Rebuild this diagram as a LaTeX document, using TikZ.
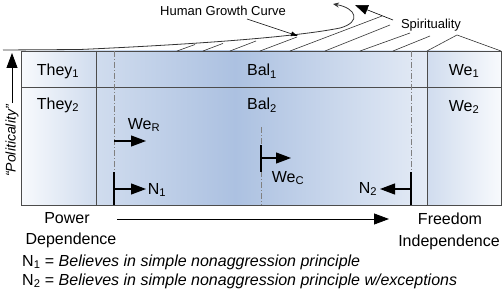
\documentclass[tikz,border=0pt]{standalone}
\usepackage{fontspec}
\setmainfont{Liberation Sans}
\usetikzlibrary{arrows.meta}

\tikzset{
  lbl/.style={inner sep=0pt,font=\fontsize{16}{18}\selectfont},
  smalllbl/.style={inner sep=0pt,font=\fontsize{13}{15}\selectfont},
  cellline/.style={draw=black!70,line width=0.8pt},
  guide/.style={draw=black!50,line width=0.8pt,dash pattern=on 6pt off 2pt on 1pt off 2pt},
  tickmark/.style={draw=black,line width=1.6pt},
  flow/.style={-{Triangle[length=15pt,width=11pt]},line width=1.1pt},
  hatch/.style={draw=black!80,line width=0.6pt},
}

\begin{document}
\begin{tikzpicture}[x=1pt,y=-1pt]
    \definecolor{pale}{RGB}{248,250,253}
    \definecolor{mid}{RGB}{208,220,238}
    \definecolor{deep}{RGB}{172,193,225}
    \useasboundingbox (0,0) rectangle (502,302);

    % shaded table
    \shade[left color=pale,right color=mid] (21,51) rectangle (96,205);
    \shade[left color=mid,right color=deep] (96,51) rectangle (235,205);
    \shade[left color=deep,right color=pale!50!mid] (235,51) rectangle (427,205);
    \shade[left color=mid,right color=pale] (427,51) rectangle (501,205);
    \draw[cellline] (21,51) rectangle (501,205);
    \draw[cellline] (21,87) -- (501,87);
    \draw[cellline] (96,51) -- (96,205);
    \draw[cellline] (427,51) -- (427,205);

    % cells
    \node[lbl] (they1) at (58,71) {They\textsubscript{1}};
    \node[lbl] (they2) at (58,105) {They\textsubscript{2}};
    \node[lbl] (bal1) at (262,71) {Bal\textsubscript{1}};
    \node[lbl] (bal2) at (262,105) {Bal\textsubscript{2}};
    \node[lbl] (we1) at (464,71) {We\textsubscript{1}};
    \node[lbl] (we2) at (464,107) {We\textsubscript{2}};

    % growth curve and hatching
    \draw[line width=0.8pt,black!80,-{Stealth[length=6pt,width=5pt]}] (3,50) -- (80,49.5)
        .. controls (180,45) and (290,38) .. (340,28)
        .. controls (362,22) and (356,8) .. (333,4);
    \foreach \sx/\ex/\ey in {177/195/44.5, 203/223/43.4, 230/256/41, 260/297/37,
                             290/382/16, 325/390/25, 360/410/33, 393/430/36}
      \draw[hatch] (\sx,51) -- (\ex,\ey);
    \draw[hatch] (427,51) -- (457,35) -- (501,51);

    \node[smalllbl] (growth) at (223,11) {Human Growth Curve};
    \coordinate (growthfoot) at (247,19);
    \coordinate (growthtip) at (298,36);
    \draw[line width=0.6pt,-{Latex[length=7pt,width=5pt]}] (growthfoot) -- (growthtip);
    \node[smalllbl] (spirit) at (431,25) {Spirituality};
    \coordinate (spiritfoot) at (393,20);
    \coordinate (spirittip) at (355,5);
    \draw[line width=0.6pt,-{Triangle[length=13pt,width=10pt]}] (spiritfoot) -- (spirittip);

    % politicality axis
    \coordinate (polbase) at (12,103);
    \coordinate (poltop) at (12,53);
    \draw[flow,line width=0.8pt] (polbase) -- (poltop);
    \node[inner sep=0pt,font=\fontsize{14}{16}\selectfont\itshape,rotate=90] (polit) at (12,141) {“Politicality”};

    % boundaries
    \draw[guide] (114,51) -- (114,172);
    \draw[tickmark] (114,172) -- (114,205);
    \draw[guide] (261,127) -- (261,205);
    \draw[tickmark] (261,145) -- (261,172);
    \draw[guide] (411,51) -- (411,172);
    \draw[tickmark] (411,172) -- (411,205);

    % movements
    \node[lbl] (weR) at (144,125) {We\textsubscript{R}};
    \coordinate (weRfrom) at (114,141);
    \coordinate (weRto) at (146,141);
    \draw[flow] (weRfrom) -- (weRto);
    \node[lbl] (n1) at (157,190) {N\textsubscript{1}};
    \coordinate (n1from) at (114,189);
    \coordinate (n1to) at (146,189);
    \draw[flow] (n1from) -- (n1to);
    \node[lbl] (weC) at (288,178) {We\textsubscript{C}};
    \coordinate (weCfrom) at (261,158);
    \coordinate (weCto) at (291,158);
    \draw[flow] (weCfrom) -- (weCto);
    \node[lbl] (n2) at (368,189) {N\textsubscript{2}};
    \coordinate (n2from) at (411,189);
    \coordinate (n2to) at (380,189);
    \draw[flow] (n2from) -- (n2to);

    % power to freedom
    \node[lbl] (power) at (67,218) {Power};
    \node[lbl] (depend) at (71,240) {Dependence};
    \node[lbl] (freedom) at (450,219) {Freedom};
    \node[lbl] (indep) at (449,242) {Independence};
    \coordinate (axisfrom) at (117,219);
    \coordinate (axisto) at (389,219);
    \draw[flow,line width=0.8pt] (axisfrom) -- (axisto);

    % legend
    \node[lbl,anchor=west] (note1) at (22,262) {N\textsubscript{1} = \textit{Believes in simple nonaggression principle}};
    \node[lbl,anchor=west] (note2) at (22,281) {N\textsubscript{2} = \textit{Believes in simple nonaggression principle w/exceptions}};
  \end{tikzpicture}
\end{document}
